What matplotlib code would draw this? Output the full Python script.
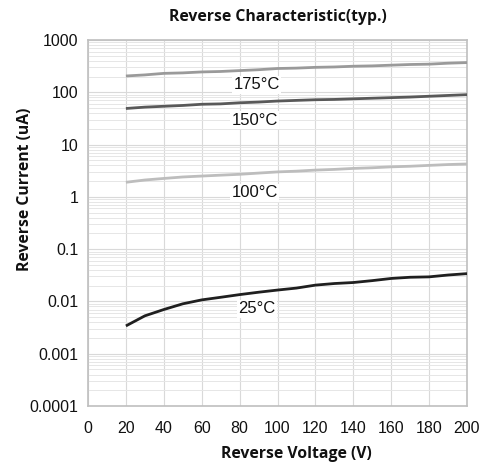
import matplotlib
matplotlib.use("Agg")
import matplotlib.pyplot as plt
from matplotlib.ticker import LogLocator, FixedLocator, NullFormatter

voltage = [20, 30, 40, 50, 60, 70, 80, 90, 100, 110, 120, 130, 140, 150, 160, 170, 180, 190, 200]
i_175 = [205, 215, 230, 235, 245, 250, 260, 270, 285, 290, 300, 305, 315, 320, 330, 340, 345, 360, 370]
i_150 = [49, 52, 54, 56, 59, 60, 63, 65, 68, 70, 72, 73, 75, 77, 79, 81, 84, 87, 90]
i_100 = [1.9, 2.1, 2.25, 2.4, 2.5, 2.6, 2.7, 2.85, 3.0, 3.1, 3.25, 3.35, 3.5, 3.6, 3.75, 3.85, 4.0, 4.15, 4.25]
i_25 = [0.0034, 0.0053, 0.007, 0.009, 0.0107, 0.012, 0.0135, 0.015, 0.0165, 0.018, 0.0205, 0.022, 0.023, 0.025, 0.0275, 0.029, 0.0295, 0.032, 0.034]

series = [
    ("175°C", i_175, "#9a9a9a", 89, 138),
    ("150°C", i_150, "#595959", 88, 29.5),
    ("100°C", i_100, "#bdbdbd", 88, 1.19),
    ("25°C", i_25, "#1f1f1f", 89, 0.0072),
]

x_ticks = [0, 20, 40, 60, 80, 100, 120, 140, 160, 180, 200]
y_ticks = [1e-4, 1e-3, 1e-2, 1e-1, 1, 10, 100, 1000]
y_labels = ["0.0001", "0.001", "0.01", "0.1", "1", "10", "100", "1000"]

fig = plt.figure(figsize=(4.86, 4.68), dpi=100)
ax = fig.add_axes([88 / 486, 1 - 406 / 468, 379 / 486, 366 / 468])
ax.set_yscale("log")
ax.set_xlim(0, 200)
ax.set_ylim(1e-4, 1e3)

for name, vals, col, lx, ly in series:
    ax.plot(voltage, vals, color=col, lw=2.0, solid_capstyle="butt", zorder=3)
    ax.text(lx, ly, name, ha="center", va="center", fontsize=12,
            family="Liberation Sans", color="#111111", zorder=4,
            bbox=dict(facecolor="white", edgecolor="none", pad=1.0))

ax.xaxis.set_major_locator(FixedLocator(x_ticks))
ax.set_xticklabels([str(v) for v in x_ticks])
ax.yaxis.set_major_locator(FixedLocator(y_ticks))
ax.set_yticklabels(y_labels)
ax.yaxis.set_minor_locator(LogLocator(base=10, subs=range(2, 10), numticks=20))
ax.yaxis.set_minor_formatter(NullFormatter())

ax.grid(True, which="major", color="#d9d9d9", lw=0.8, zorder=0)
ax.grid(True, which="minor", axis="y", color="#e6e6e6", lw=0.7, zorder=0)
ax.set_axisbelow(True)

for s in ax.spines.values():
    s.set_color("#bfbfbf")
    s.set_linewidth(1.2)

ax.tick_params(axis="both", which="both", length=0)
ax.tick_params(axis="x", pad=11, labelsize=11.5)
ax.tick_params(axis="y", pad=7, labelsize=11.5)
for lab in ax.get_xticklabels() + ax.get_yticklabels():
    lab.set_family("Liberation Sans")
    lab.set_color("#111111")

ax.set_title("Reverse Characteristic(typ.)", family="Open Sans", fontweight="bold",
             fontsize=11.3, pad=14, color="#111111")
ax.set_xlabel("Reverse Voltage (V)", family="Open Sans", fontweight="bold",
              fontsize=11.3, color="#111111")
ax.set_ylabel("Reverse Current (uA)", family="Open Sans", fontweight="bold",
              fontsize=11.3, color="#111111")
ax.xaxis.set_label_coords(0.551, -0.108)
ax.yaxis.set_label_coords(-0.145, 0.593)

fig.savefig("out.png", dpi=100)
